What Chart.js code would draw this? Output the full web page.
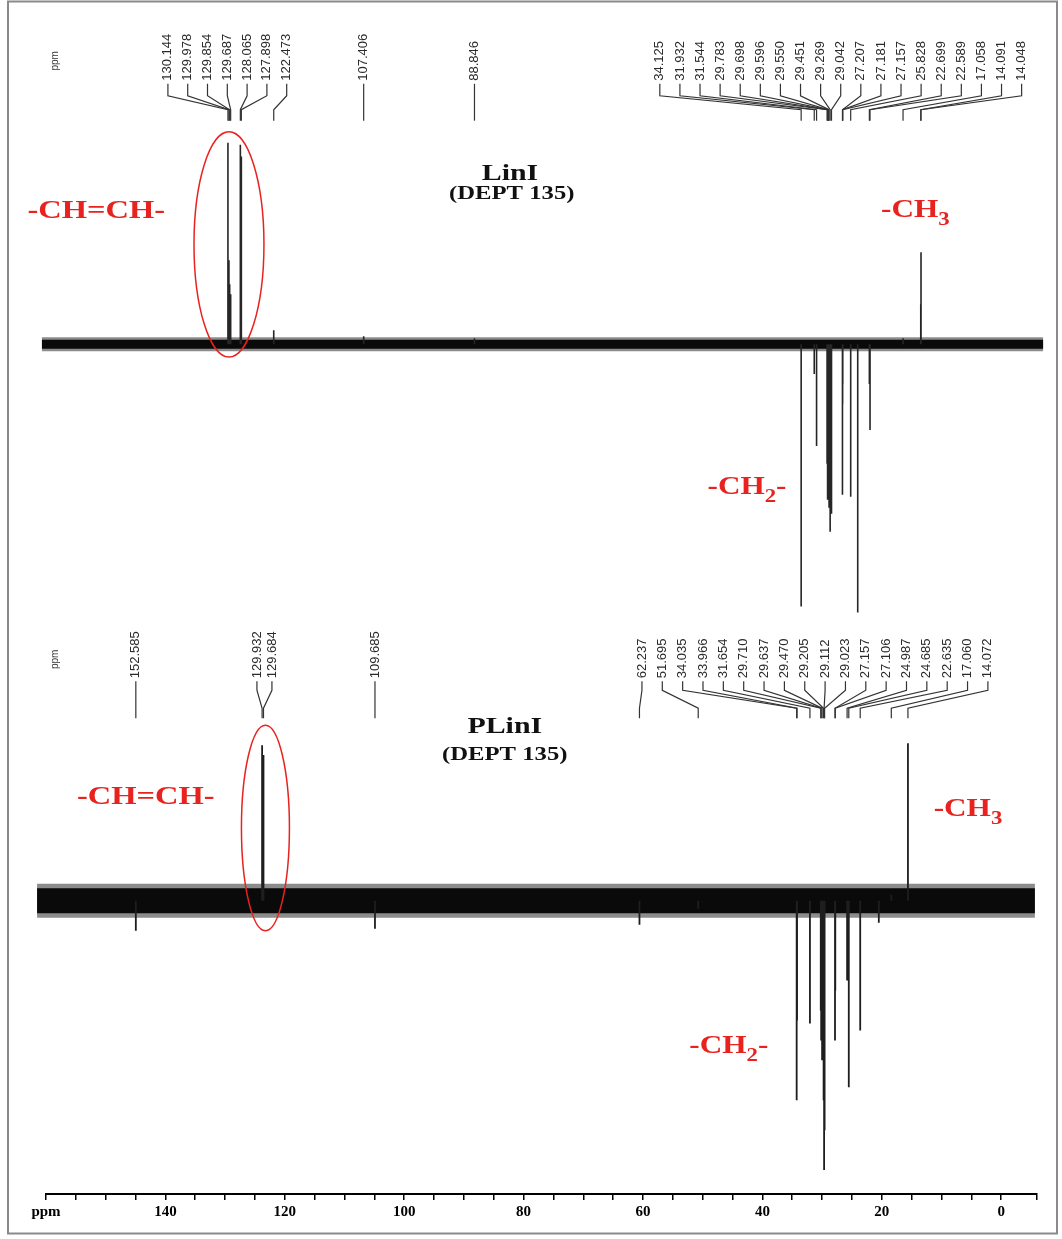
<!DOCTYPE html>
<html>
<head>
<meta charset="utf-8">
<script src="https://cdn.jsdelivr.net/npm/chart.js@4"></script>
<style>
body{margin:0;background:#fff;}
#wrap{width:1062px;height:1239px;position:relative;}
</style>
</head>
<body>
<div id="wrap"><canvas id="dept"></canvas></div>
<script>
// LinI, DEPT 135: peak shifts (ppm) and heights (up = CH/CH3, down = CH2)
const linPpm    = [130.144, 129.978, 129.854, 129.687, 128.065, 127.898, 122.473, 107.406, 88.846,
                   34.125, 31.932, 31.544, 29.783, 29.698, 29.596, 29.550, 29.451, 29.269, 29.042,
                   27.207, 27.181, 27.157, 25.828, 24.650, 22.699, 22.589, 17.058, 14.091, 14.048];
const linHeight = [101, 42, 30, 25, 100, 94, 7, 4, 3,
                   -131.5, -15, -51, -60, -78, -70, -75, -82, -94, -85,
                   -75.5, -30, -20, -76.5, -134.5, -20, -43, 3, 20, 46];

// PLinI, DEPT 135
const plinPpm    = [152.585, 129.932, 129.684, 109.685, 62.237, 51.695, 34.035, 33.966, 31.654,
                    29.710, 29.637, 29.470, 29.205, 29.112, 29.023, 27.157, 27.106, 24.987, 24.685,
                    22.635, 19.300, 17.060, 14.072];
const plinHeight = [-15, 78, 73, -14, -12, -4, -100, -60, -61.5,
                    -55, -70, -80, -100, -135, -115, -70, -45, -40, -93.5,
                    -65, -11, 3, 79];

// peak pick labels, grouped the way the spectrometer printed them
const linLabelsA = ['130.144', '129.978', '129.854', '129.687', '128.065', '127.898', '122.473'];
const linLabelsB = ['107.406'];
const linLabelsC = ['88.846'];
const linLabelsD = ['34.125', '31.932', '31.544', '29.783', '29.698', '29.596', '29.550', '29.451', '29.269',
                    '29.042', '27.207', '27.181', '27.157', '25.828', '22.699', '22.589', '17.058', '14.091', '14.048'];
const plinLabelsA = ['152.585'];
const plinLabelsB = ['129.932', '129.684'];
const plinLabelsC = ['109.685'];
const plinLabelsD = ['62.237', '51.695', '34.035', '33.966', '31.654', '29.710', '29.637', '29.470', '29.205',
                     '29.112', '29.023', '27.157', '27.106', '24.987', '24.685', '22.635', '17.060', '14.072'];

// ppm axis
const axisMin = -6, axisMax = 160, axisStep = 5, axisLabelEvery = 20;

// each peak is its own vertical stick; the null point breaks the line between peaks
function sticks(ppm, h) {
  const pts = [];
  ppm.map((p, i) => [p, h[i]]).sort((a, b) => b[0] - a[0]).forEach(([p, v]) => {
    pts.push({x: p, y: 0}, {x: p, y: v}, {x: p, y: null});
  });
  return pts;
}

const serif = '"Liberation Serif", "Times New Roman", serif';

function rich(ctx, parts, x, y, size, color, stretch) {
  ctx.save();
  ctx.fillStyle = color;
  ctx.textBaseline = 'alphabetic';
  ctx.textAlign = 'left';
  const big = 'bold ' + size + 'px ' + serif;
  const small = 'bold ' + Math.round(size * 0.72) + 'px ' + serif;
  let w = 0;
  parts.forEach(p => { ctx.font = p.sub ? small : big; w += ctx.measureText(p.t).width; });
  ctx.translate(x, y);
  ctx.scale(stretch, 1);
  let cx = -w / 2;
  parts.forEach(p => {
    ctx.font = p.sub ? small : big;
    ctx.fillText(p.t, cx, p.sub ? size * 0.3 : 0);
    cx += ctx.measureText(p.t).width;
  });
  ctx.restore();
}

function peakLabels(ctx, xs, ys, groups, lv) {
  ctx.save();
  ctx.strokeStyle = '#333';
  ctx.lineWidth = 1.2;
  ctx.fillStyle = '#2a2a2a';
  ctx.font = '13px "Liberation Sans", Arial, sans-serif';
  const yText = ys.getPixelForValue(lv.text), ya = ys.getPixelForValue(lv.a),
        yb = ys.getPixelForValue(lv.b), yc = ys.getPixelForValue(lv.c), yd = ys.getPixelForValue(lv.d);
  groups.forEach(g => {
    const x0 = g.slot !== undefined ? xs.getPixelForValue(g.slot) : 0;
    g.labels.forEach((lab, i) => {
      const px = xs.getPixelForValue(parseFloat(lab));
      const sx = g.slot === undefined ? px : x0 + i * g.gap;
      ctx.beginPath();
      if (g.slot === undefined) {
        ctx.moveTo(px, ya); ctx.lineTo(px, yd);
      } else {
        ctx.moveTo(sx, ya); ctx.lineTo(sx, yb); ctx.lineTo(px, yc); ctx.lineTo(px, yd);
      }
      ctx.stroke();
      ctx.save();
      ctx.translate(sx, yText);
      ctx.rotate(-Math.PI / 2);
      ctx.textAlign = 'left';
      ctx.textBaseline = 'middle';
      ctx.fillText(lab, 0, 0);
      ctx.restore();
    });
  });
  ctx.restore();
}

function ring(ctx, xs, ys, x1, x2, y1, y2) {
  const cx = (xs.getPixelForValue(x1) + xs.getPixelForValue(x2)) / 2;
  const cy = (ys.getPixelForValue(y1) + ys.getPixelForValue(y2)) / 2;
  const rx = Math.abs(xs.getPixelForValue(x1) - xs.getPixelForValue(x2)) / 2;
  const ry = Math.abs(ys.getPixelForValue(y1) - ys.getPixelForValue(y2)) / 2;
  ctx.save();
  ctx.strokeStyle = '#e8231f';
  ctx.lineWidth = 1.5;
  ctx.beginPath();
  ctx.ellipse(cx, cy, rx, ry, 0, 0, Math.PI * 2);
  ctx.stroke();
  ctx.restore();
}

function smallPpm(ctx, x, y) {
  ctx.save();
  ctx.translate(x, y);
  ctx.rotate(-Math.PI / 2);
  ctx.font = '10px "Liberation Sans", Arial, sans-serif';
  ctx.fillStyle = '#333';
  ctx.textAlign = 'center';
  ctx.textBaseline = 'middle';
  ctx.fillText('ppm', 0, 0);
  ctx.restore();
}

const annotate = {
  id: 'annotate',
  beforeDraw(chart) {
    const ctx = chart.ctx;
    ctx.save();
    ctx.fillStyle = '#fff';
    ctx.fillRect(0, 0, chart.width, chart.height);
    ctx.restore();
  },
  afterDraw(chart) {
    const ctx = chart.ctx;
    const xt = chart.scales.xt, xb = chart.scales.xb, yt = chart.scales.yTop, yb = chart.scales.yBot;
    const red = '#e8231f';

    // top spectrum
    peakLabels(ctx, xt, yt, [
      {labels: linLabelsA, slot: 140.2, gap: 19.8},
      {labels: linLabelsB},
      {labels: linLabelsC},
      {labels: linLabelsD, slot: 57.8, gap: 20.1}
    ], {text: 132, a: 130.5, b: 124.5, c: 117.5, d: 112});
    smallPpm(ctx, xt.getPixelForValue(159.1), yt.getPixelForValue(142));
    ring(ctx, xt, yt, 135.83, 124.11, 106.5, -6.5);
    rich(ctx, [{t: 'LinI'}], xt.getPixelForValue(82.9), yt.getPixelForValue(82.5), 23, '#111', 1.3);
    rich(ctx, [{t: '(DEPT 135)'}], xt.getPixelForValue(82.6), yt.getPixelForValue(73), 19, '#111', 1.3);
    rich(ctx, [{t: '-CH=CH-'}], xt.getPixelForValue(152.2), yt.getPixelForValue(63), 26, red, 1.25);
    rich(ctx, [{t: '-CH'}, {t: '3', sub: true}], xt.getPixelForValue(15.0), yt.getPixelForValue(63.5), 26, red, 1.2);
    rich(ctx, [{t: '-CH'}, {t: '2', sub: true}, {t: '-'}], xt.getPixelForValue(43.2), yt.getPixelForValue(-75), 26, red, 1.2);

    // bottom spectrum
    peakLabels(ctx, xb, yb, [
      {labels: plinLabelsA},
      {labels: plinLabelsB, slot: 130.86, gap: 15},
      {labels: plinLabelsC},
      {labels: plinLabelsD, slot: 61.79, gap: 20.35}
    ], {text: 111.5, a: 110, b: 105.5, c: 96.5, d: 91.5});
    smallPpm(ctx, xb.getPixelForValue(167.1), yb.getPixelForValue(121));
    ring(ctx, xb, yb, 133.64, 125.03, 88, -15);
    rich(ctx, [{t: 'PLinI'}], xb.getPixelForValue(86.4), yb.getPixelForValue(84), 23, '#111', 1.3);
    rich(ctx, [{t: '(DEPT 135)'}], xb.getPixelForValue(86.4), yb.getPixelForValue(70.5), 19, '#111', 1.3);
    rich(ctx, [{t: '-CH=CH-'}], xb.getPixelForValue(150.8), yb.getPixelForValue(48.5), 26, red, 1.25);
    rich(ctx, [{t: '-CH'}, {t: '3', sub: true}], xb.getPixelForValue(3.3), yb.getPixelForValue(42.5), 26, red, 1.2);
    rich(ctx, [{t: '-CH'}, {t: '2', sub: true}, {t: '-'}], xb.getPixelForValue(46.2), yb.getPixelForValue(-76.5), 26, red, 1.2);

    // figure frame
    ctx.save();
    ctx.strokeStyle = '#8a8a8a';
    ctx.lineWidth = 2;
    ctx.strokeRect(8, 1.5, 1049, 1232);
    ctx.restore();
  }
};

// noisy baseline drawn as a dark band
const band = (axisX, axisY, from, to, width, color) => ({
  type: 'line', xAxisID: axisX, yAxisID: axisY,
  data: [{x: from, y: 0}, {x: to, y: 0}],
  borderColor: color, borderWidth: width, pointRadius: 0, clip: false, borderCapStyle: 'butt'
});

new Chart(document.getElementById('dept'), {
  type: 'line',
  data: {
    datasets: [
      {xAxisID: 'xt', yAxisID: 'yTop', data: sticks(linPpm, linHeight), spanGaps: false,
       borderColor: '#262626', borderWidth: 1.6, pointRadius: 0, clip: false},
      {xAxisID: 'xb', yAxisID: 'yBot', data: sticks(plinPpm, plinHeight), spanGaps: false,
       borderColor: '#1e1e1e', borderWidth: 1.8, pointRadius: 0, clip: false},
      band('xt', 'yTop', 161.3, -6.4, 9, '#0a0a0a'),
      band('xt', 'yTop', 161.3, -6.4, 14, 'rgba(0,0,0,0.45)'),
      band('xb', 'yBot', 170.3, -8.7, 25, '#0a0a0a'),
      band('xb', 'yBot', 170.3, -8.7, 34, 'rgba(0,0,0,0.45)')
    ]
  },
  options: {
    responsive: true,
    maintainAspectRatio: false,
    animation: false,
    layout: {padding: {left: 46, right: 25, top: 0, bottom: 15}},
    plugins: {legend: {display: false}, tooltip: {enabled: false}},
    elements: {line: {tension: 0}},
    scales: {
      x: {
        type: 'linear', position: 'bottom', reverse: true, min: axisMin, max: axisMax,
        ticks: {
          stepSize: axisStep, autoSkip: false, maxRotation: 0, color: '#000',
          font: {family: serif, size: 15, weight: 'bold'},
          callback: v => v === axisMax ? 'ppm' : (v % axisLabelEvery === 0 ? String(v) : '')
        },
        grid: {drawOnChartArea: false, tickLength: 6, color: '#000', lineWidth: 1.5},
        border: {color: '#000', width: 2}
      },
      xt: {type: 'linear', display: false, reverse: true, min: -5.38, max: 160.62},
      xb: {type: 'linear', display: false, reverse: true, min: -9.08, max: 168.7},
      yTop: {type: 'linear', display: false, min: -426, max: 172.5},
      yBot: {type: 'linear', display: false, min: -147, max: 451.5}
    }
  },
  plugins: [annotate]
});
</script>
</body>
</html>
